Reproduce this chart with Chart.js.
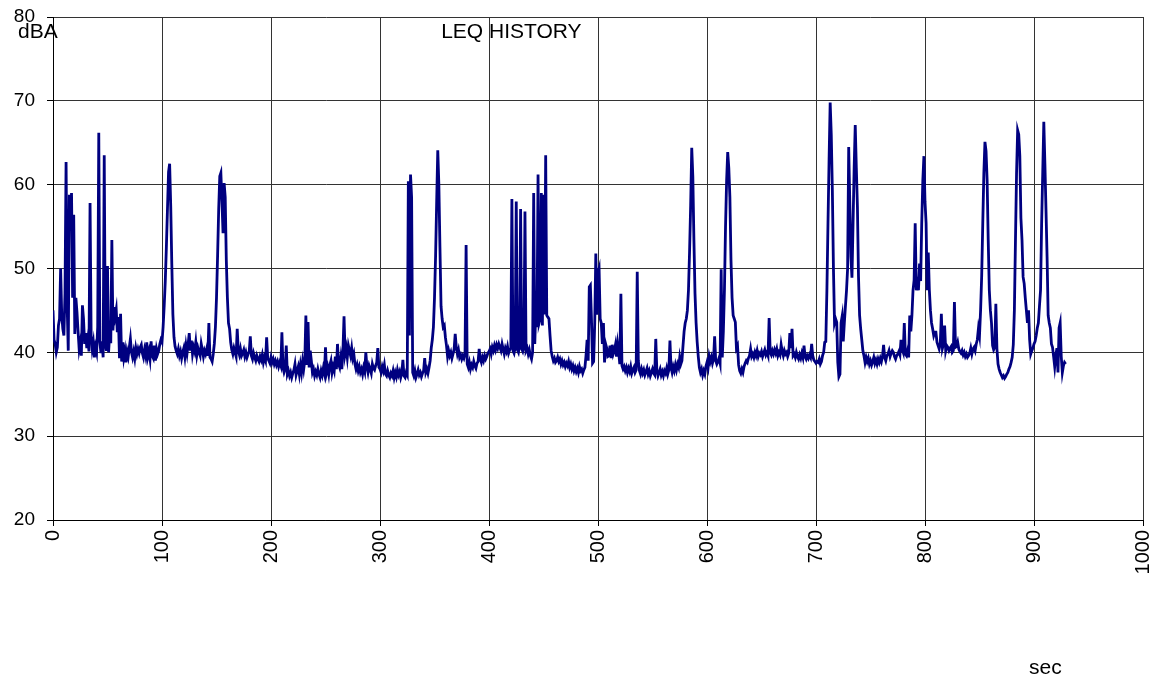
<!DOCTYPE html>
<html>
<head>
<meta charset="utf-8">
<title>LEQ HISTORY</title>
<script src="https://cdn.jsdelivr.net/npm/chart.js@4/dist/chart.umd.min.js"></script>
<style>
  html, body { margin: 0; padding: 0; background: #ffffff; }
  #wrap { width: 1157px; height: 679px; position: relative; }
</style>
</head>
<body>
<div id="wrap"><canvas id="leq"></canvas></div>
<script>
// One-second LEQ readings (dBA), grouped per 100 s block.
const leq000 = [
  45.0, 41.5, 41.0, 40.0, 40.6, 43.2, 44.0, 50.0, 44.5, 42.8,
  42.0, 47.0, 62.7, 45.5, 40.2, 58.8, 55.8, 59.0, 46.5, 56.4,
  42.2, 46.5, 44.8, 42.5, 40.4, 41.2, 39.6, 45.6, 44.0, 41.0,
  42.3, 40.5, 41.6, 40.1, 57.8, 42.0, 40.4, 41.2, 39.4, 40.6,
  40.0, 43.0, 66.2, 41.2, 39.9, 41.3, 39.4, 63.5, 41.0, 40.2,
  50.3, 40.0, 42.3, 41.1, 53.4, 42.6, 45.4, 44.3, 45.1, 42.4,
  44.2, 39.3, 44.6, 38.9, 41.2, 39.4, 40.2, 38.8, 40.1, 39.5,
  40.6, 41.6, 40.0, 39.4, 40.1, 39.3, 40.5, 39.8, 40.4, 39.9,
  40.6, 40.9, 39.9, 39.4, 40.3, 39.6, 41.2, 39.5, 40.1, 39.2,
  41.3, 39.6, 39.3, 40.8, 39.0, 40.4, 39.8, 40.2, 41.0, 41.5
];
const leq100 = [
  41.2, 43.0, 45.5, 48.5, 52.5, 57.0, 61.5, 62.5, 57.5, 50.5,
  44.5, 41.8, 40.7, 40.2, 39.8, 40.4, 39.6, 40.1, 39.3, 40.0,
  40.5, 39.5, 40.8, 39.9, 41.0, 42.3, 40.2, 41.4, 39.8, 40.6,
  40.1, 41.2, 39.7, 40.5, 40.0, 39.6, 41.0, 40.3, 39.5, 40.2,
  39.8, 40.4, 39.6, 43.5, 39.4, 39.2, 38.9, 39.8, 41.0, 43.0,
  46.5, 51.5, 57.0, 61.0, 61.4, 58.0, 54.2, 60.2, 58.5, 51.0,
  46.5, 43.5, 42.8, 41.2, 40.3, 39.8, 40.5, 40.0, 39.5, 42.8,
  40.2, 39.7, 40.4, 39.6, 39.9, 40.3, 39.5, 40.0, 39.4, 39.8,
  40.1, 41.9, 39.6, 39.2, 39.9, 39.4, 39.0, 39.6, 39.2, 38.9,
  39.5, 39.1, 39.7, 38.8, 39.4, 39.0, 41.8, 39.3, 39.0, 38.7
];
const leq200 = [
  39.4, 38.8, 39.2, 38.6, 39.0, 38.5, 38.9, 38.3, 38.8, 38.4,
  42.4, 38.2, 37.6, 38.0, 40.8, 37.4, 37.8, 37.2, 37.6, 37.0,
  37.5, 37.9, 38.6, 37.3, 37.8, 38.3, 37.4, 38.5, 37.6, 38.9,
  38.0, 39.0, 44.4, 38.5, 43.6, 38.2, 40.2, 39.0, 37.6, 38.0,
  37.2, 37.7, 37.3, 38.0, 37.4, 37.0, 37.8, 37.3, 38.1, 37.5,
  40.6, 37.6, 38.2, 37.4, 38.5, 39.0, 37.6, 38.3, 37.8, 39.5,
  38.0, 41.0, 38.6, 38.2, 39.3, 38.0, 40.2, 44.3, 39.8, 40.5,
  39.4, 40.8, 40.2, 39.6, 40.5, 39.3, 39.8, 38.6, 38.0, 38.5,
  37.8, 38.3, 37.6, 38.0, 37.4, 38.2, 37.7, 40.0, 38.3, 37.6,
  38.4, 38.0, 37.5, 38.6, 38.1, 37.9, 38.4, 38.8, 40.5, 38.2
];
const leq300 = [
  38.0, 37.6, 38.3, 37.8, 38.5, 37.4, 37.2, 37.8, 37.3, 37.0,
  37.5, 37.2, 37.8, 37.0, 37.6, 37.1, 37.9, 37.3, 37.7, 37.0,
  37.5, 39.1, 37.2, 37.0, 37.6, 37.3, 60.4, 42.0, 61.2, 58.5,
  37.6, 37.2, 37.8, 37.0, 37.4, 37.9, 37.3, 37.6, 37.1, 37.5,
  37.8, 39.3, 37.6, 38.0, 37.5, 38.2, 39.0, 40.5, 41.5, 43.0,
  46.5, 51.5, 58.0, 64.1, 60.0, 52.5, 45.5, 44.0, 43.0, 43.2,
  41.8, 40.8, 39.5, 40.2, 39.6, 40.0, 39.3, 39.8, 40.4, 42.2,
  40.6, 39.8, 40.3, 39.4, 39.7, 39.2, 39.6, 39.3, 39.8, 52.8,
  38.6, 38.2, 38.8, 38.0, 38.5, 38.2, 38.9, 38.4, 38.1, 38.7,
  38.9, 40.4, 39.2, 38.8, 39.4, 39.0, 39.6, 39.2, 39.5, 39.9
];
const leq400 = [
  40.1, 40.4, 39.8, 40.6, 40.2, 40.8, 40.3, 40.9, 40.5, 41.0,
  40.6, 40.2, 41.0, 40.4, 39.8, 40.5, 40.1, 40.7, 39.9, 40.3,
  40.5, 58.3, 40.2, 39.9, 40.6, 58.0, 40.3, 40.0, 40.8, 57.1,
  40.4, 40.1, 40.6, 56.8, 40.2, 40.5, 39.8, 40.3, 39.6, 39.2,
  40.0, 59.0, 41.0, 45.5, 43.0, 61.2, 43.5, 44.0, 59.0, 43.2,
  58.8, 44.5, 63.5, 44.4, 44.2, 44.0, 42.0, 40.2, 39.5, 39.0,
  39.3, 38.8, 39.0, 39.4, 38.9, 39.2, 38.6, 39.0, 38.5, 38.8,
  38.3, 38.7, 38.4, 38.9, 38.2, 38.6, 38.0, 38.4, 37.8, 38.2,
  37.7, 38.1, 37.6, 38.3, 37.8, 38.0, 37.5, 37.9, 38.2, 39.6,
  41.5, 39.0, 47.8, 48.0, 44.0, 38.7, 38.9, 43.5, 51.8, 44.5
];
const leq500 = [
  49.5, 50.0, 44.0, 43.5, 41.0, 43.5, 38.8, 41.0, 40.5, 39.5,
  39.6, 40.8, 39.3, 40.9, 39.8, 40.2, 40.9, 39.5, 41.0, 40.0,
  38.6, 47.0, 38.4, 38.0, 38.3, 37.8, 38.2, 37.6, 38.1, 37.7,
  38.3, 37.5, 37.9, 38.2, 37.6, 37.9, 49.6, 39.0, 37.8, 37.4,
  38.0, 37.5, 37.9, 37.3, 37.7, 38.1, 37.4, 37.8, 37.2, 37.6,
  38.0, 37.5, 37.3, 41.6, 37.8, 37.2, 37.6, 38.0, 37.3, 37.7,
  37.2, 37.8, 37.5, 38.1, 37.4, 37.9, 41.4, 38.2, 37.6, 38.3,
  37.8, 38.5, 37.9, 38.6, 38.2, 39.4, 38.6, 39.0, 40.8, 42.5,
  43.5, 44.0, 45.0, 47.4, 52.0, 57.5, 64.4, 61.0, 53.4, 47.0,
  43.5, 41.2, 39.5, 38.2, 37.6, 38.0, 37.3, 37.8, 37.4, 38.3
];
const leq600 = [
  38.8, 38.2, 39.5, 38.9, 39.4, 38.7, 39.2, 41.9, 39.0, 38.6,
  38.9, 39.3, 38.7, 49.9, 39.4, 42.5, 47.4, 55.0, 60.5, 63.9,
  62.0, 58.5, 51.0, 46.5, 44.4, 44.0, 43.6, 40.5, 40.8, 38.5,
  37.8, 37.5, 38.0, 37.6, 38.3, 38.7, 39.0, 38.8, 39.3, 39.6,
  40.4, 39.5, 39.8, 39.4, 40.0, 39.6, 40.2, 39.5, 39.9, 39.7,
  40.1, 39.5, 39.9, 40.3, 39.7, 40.0, 39.6, 44.1, 40.0, 39.7,
  40.2, 39.8, 40.3, 39.9, 40.4, 39.6, 40.0, 39.7, 40.9, 40.1,
  39.6, 40.2, 39.8, 40.0, 39.5, 39.9, 42.3, 40.5, 42.8, 39.6,
  39.8, 39.4, 40.0, 39.5, 39.2, 39.7, 39.3, 39.9, 39.4, 40.8,
  39.5, 39.2, 39.6, 39.3, 39.7, 39.4, 41.0, 39.6, 39.1, 38.9
];
const leq700 = [
  38.7, 38.9, 38.8, 39.2, 38.6, 38.9, 39.6, 40.0, 41.2, 41.3,
  47.4, 55.4, 63.0, 69.8, 66.0, 59.4, 50.0, 43.5, 44.0, 43.6,
  38.8, 37.1, 37.4, 43.5, 44.3, 41.3, 43.5, 45.5, 47.4, 50.0,
  64.5, 58.0, 51.4, 48.9, 55.4, 62.0, 67.1, 62.0, 57.4, 49.0,
  44.4, 42.8, 41.5, 40.2, 39.6, 38.8, 39.4, 38.9, 39.3, 38.6,
  39.0, 38.5, 38.9, 39.4, 38.7, 39.1, 38.6, 39.2, 38.8, 39.3,
  38.9, 39.5, 40.9, 39.4, 39.0, 39.6, 39.8, 40.2, 39.5, 39.9,
  40.2, 40.0, 39.5, 39.2, 39.6, 39.8, 40.1, 39.7, 41.5, 40.4,
  40.0, 43.5, 39.8, 39.6, 40.2, 39.4, 44.4, 42.5, 44.4, 47.4,
  48.6, 55.4, 47.4, 49.0, 47.4, 50.6, 48.5, 55.4, 60.5, 63.4
];
const leq800 = [
  58.0, 55.4, 47.4, 51.9, 47.4, 45.0, 43.5, 42.8, 42.0, 42.4,
  42.4, 41.2, 40.8, 40.4, 41.0, 44.6, 40.5, 41.0, 43.2, 40.2,
  40.8, 40.6, 40.2, 40.5, 40.7, 40.0, 40.2, 46.0, 40.6, 40.7,
  41.2, 40.4, 40.1, 39.9, 40.2, 39.7, 40.0, 39.5, 39.8, 39.4,
  39.6, 39.9, 40.5, 39.8, 40.4, 40.6, 40.2, 41.0, 41.5, 42.8,
  42.0, 45.0, 49.1, 55.4, 61.4, 65.1, 64.0, 60.5, 53.4, 47.4,
  45.0, 43.5, 40.8, 40.3, 40.6, 45.8, 40.4, 38.6, 38.0, 37.6,
  37.3, 37.0, 37.2, 36.9, 37.1, 37.4, 37.6, 38.0, 38.3, 38.8,
  39.4, 40.9, 45.0, 53.4, 61.4, 66.5, 66.0, 63.4, 56.0, 53.4,
  49.0, 48.2, 46.5, 45.0, 43.5, 45.0, 41.5, 39.8, 40.2, 40.5
];
const leq900 = [
  41.0, 41.3, 42.0, 42.9, 43.5, 45.5, 47.4, 55.4, 61.4, 67.5,
  62.5, 57.0, 51.4, 44.4, 43.5, 42.9, 41.0, 40.6, 39.5, 38.3,
  39.6, 40.5, 37.6, 42.9, 43.5, 39.5, 37.6, 38.4, 38.8, 38.6
];

const leqValues = [].concat(leq000, leq100, leq200, leq300, leq400,
                            leq500, leq600, leq700, leq800, leq900);
// Readings are taken once per second, starting at 0 s.
const seconds = leqValues.map((_, i) => i);

const xTicks = { min: 0, max: 1000, step: 100 };
const yTicks = { min: 20, max: 80, step: 10 };
const chartTitle = 'LEQ HISTORY';
const yUnit = 'dBA';
const xUnit = 'sec';

const FONT = "'Liberation Sans', Arial, sans-serif";

const textLabels = {
  id: 'textLabels',
  afterDraw(chart) {
    const { ctx, chartArea } = chart;
    ctx.save();
    ctx.fillStyle = '#000';
    ctx.font = '21px ' + FONT;
    ctx.textBaseline = 'middle';
    ctx.textAlign = 'center';
    const w = chartArea.right - chartArea.left;
    ctx.fillText(chartTitle, chartArea.left + w * 0.4205, chartArea.top + 15);
    ctx.textAlign = 'left';
    ctx.fillText(yUnit, 18, chartArea.top + 15);
    ctx.fillText(xUnit, 1029, 668);
    ctx.restore();
  }
};

new Chart(document.getElementById('leq'), {
  type: 'line',
  data: {
    datasets: [{
      data: seconds.map((s, i) => ({ x: s, y: leqValues[i] })),
      borderColor: '#000080',
      borderWidth: 2.8,
      pointRadius: 0,
      tension: 0,
      fill: false
    }]
  },
  options: {
    responsive: true,
    maintainAspectRatio: false,
    animation: false,
    events: [],
    layout: { padding: { top: 17, right: 14, left: 0, bottom: 0 } },
    plugins: { legend: { display: false }, tooltip: { enabled: false }, title: { display: false } },
    scales: {
      x: {
        type: 'linear',
        min: xTicks.min,
        max: xTicks.max,
        afterFit(scale) {
          scale.height = 159;
          scale.paddingLeft = 0;
          scale.paddingRight = 0;
        },
        ticks: {
          stepSize: xTicks.step,
          minRotation: 90,
          maxRotation: 90,
          padding: 4,
          color: '#000',
          font: { family: FONT, size: 20 },
          callback: (v) => String(v)
        },
        grid: { color: '#333', lineWidth: 1, tickLength: 6, tickColor: '#000' },
        border: { color: '#000', width: 1 }
      },
      y: {
        min: yTicks.min,
        max: yTicks.max,
        afterFit(scale) {
          scale.width = 53;
          scale.paddingTop = 0;
          scale.paddingBottom = 0;
        },
        ticks: {
          stepSize: yTicks.step,
          padding: 12,
          color: '#000',
          font: { family: FONT, size: 19 }
        },
        grid: { color: '#333', lineWidth: 1, tickLength: 6, tickColor: '#000' },
        border: { color: '#000', width: 1 }
      }
    }
  },
  plugins: [textLabels]
});
</script>
</body>
</html>
